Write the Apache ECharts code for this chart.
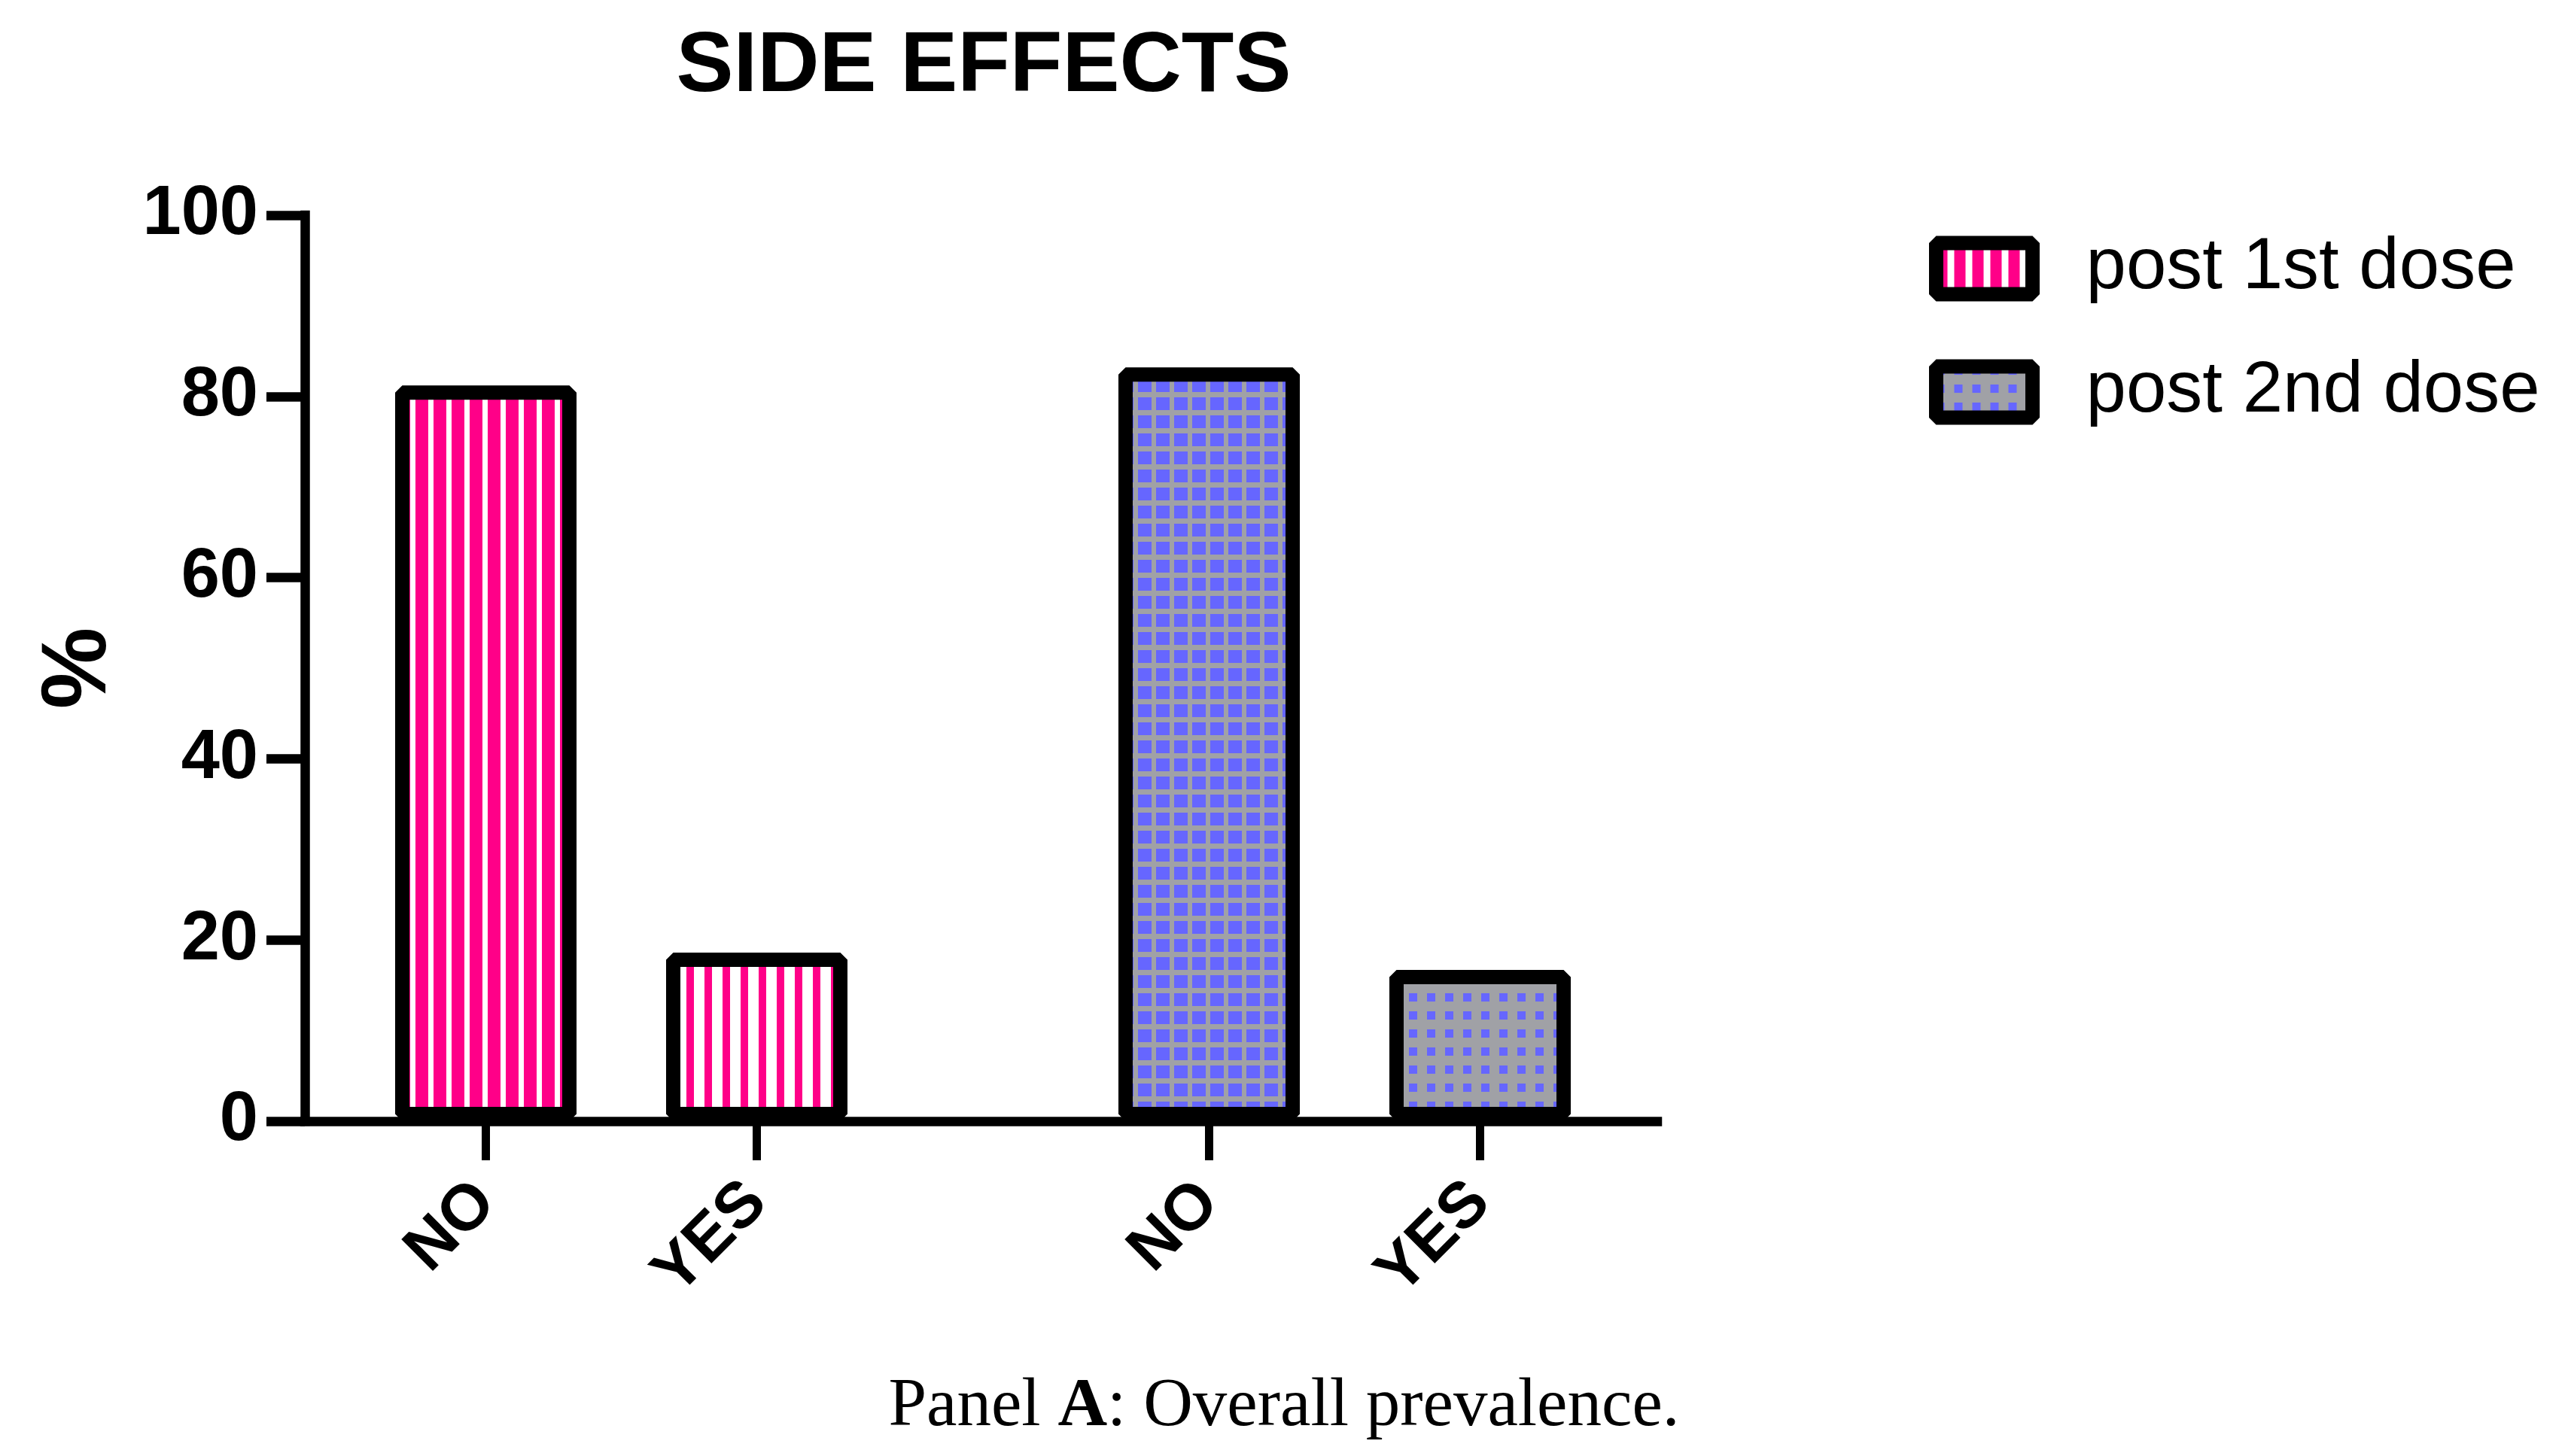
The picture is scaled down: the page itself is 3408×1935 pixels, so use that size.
<!DOCTYPE html>
<html><head><meta charset="utf-8">
<script src="https://cdn.jsdelivr.net/npm/echarts@6/dist/echarts.min.js"></script>
<style>html,body{margin:0;padding:0;background:#fff}#c{width:3408px;height:1935px}</style>
</head><body><div id="c"></div>
<script>
// ---- data ----
const categories = ['NO', 'YES'];
const seriesNames = ['post 1st dose', 'post 2nd dose'];
const dose1 = [81.2, 18.6];
const dose2 = [83.2, 16.7];
const yTicks = [0, 20, 40, 60, 80, 100];
const titleText = 'SIDE EFFECTS';
const yName = '%';
const captionText = 'Panel {b|A}: Overall prevalence.';

// ---- patterns ----
const PINK = '#FF0088', BLUE = '#6666FF', GRAY = '#A0A1A6';
function pat(draw) {
  const c = document.createElement('canvas'); c.width = 24; c.height = 24;
  const g = c.getContext('2d'); draw(g);
  return { image: c, repeat: 'repeat' };
}
function stripes(w) { return pat(g => { g.fillStyle = '#fff'; g.fillRect(0, 0, 24, 24); g.fillStyle = PINK; g.fillRect(0, 0, w, 24); }); }
const stripeHeavy = stripes(17), stripeLight = stripes(10), stripeLegend = stripes(15);
const gridPat = pat(g => { g.fillStyle = GRAY; g.fillRect(0, 0, 24, 24); g.fillStyle = BLUE; g.fillRect(0, 0, 18, 17); });
const dotPat = pat(g => { g.fillStyle = GRAY; g.fillRect(0, 0, 24, 24); g.fillStyle = BLUE; g.fillRect(0, 0, 11, 11); });

const FONT = 'Liberation Sans';
const TOP = 286, BOTTOM = 1935 - 1490;
const border = { borderColor: '#000', borderWidth: 19, borderJoin: 'bevel' };

function catAxis(gi) {
  return {
    gridIndex: gi, type: 'category', data: categories, boundaryGap: true,
    axisLine: { show: false },
    axisTick: { show: true, alignWithLabel: true, length: 52, lineStyle: { color: '#000', width: 11 } },
    axisLabel: { rotate: 45, margin: 95, fontSize: 86, fontWeight: 'bold', color: '#000', fontFamily: FONT },
    splitLine: { show: false }
  };
}
function hiddenY(gi) { return { gridIndex: gi, type: 'value', min: yTicks[0], max: yTicks[yTicks.length - 1], show: false, splitLine: { show: false } }; }

const chart = echarts.init(document.getElementById('c'), null, { renderer: 'canvas' });
chart.setOption({
  backgroundColor: '#fff',
  animation: false,
  grid: [
    { left: 405, right: 3408 - 2202, top: TOP, bottom: BOTTOM },
    { left: 465.5, width: 720, top: TOP, bottom: BOTTOM },
    { left: 1426.5, width: 720, top: TOP, bottom: BOTTOM }
  ],
  xAxis: [
    { gridIndex: 0, type: 'value', min: 0, max: 1, axisLine: { show: true, lineStyle: { color: '#000', width: 12.5, cap: 'square' } },
      axisTick: { show: false }, axisLabel: { show: false }, splitLine: { show: false } },
    catAxis(1), catAxis(2)
  ],
  yAxis: [
    { gridIndex: 0, type: 'value', min: yTicks[0], max: yTicks[yTicks.length - 1], interval: yTicks[1] - yTicks[0],
      name: yName, nameLocation: 'middle', nameGap: 238, nameRotate: 90,
      nameTextStyle: { fontSize: 122, fontWeight: 'bold', color: '#000', fontFamily: FONT },
      axisLine: { show: true, lineStyle: { color: '#000', width: 12.5, cap: 'square' } },
      axisTick: { show: true, length: 51, lineStyle: { color: '#000', width: 12.5 } },
      axisLabel: { margin: 62, fontSize: 92, fontWeight: 'bold', color: '#000', fontFamily: FONT },
      splitLine: { show: false } },
    hiddenY(1), hiddenY(2)
  ],
  legend: {
    orient: 'vertical', left: 2558, top: 304, itemWidth: 128, itemHeight: 68, itemGap: 68,
    icon: 'rect', selectedMode: false, data: seriesNames,
    itemStyle: { borderColor: '#000', borderWidth: 19, borderJoin: 'bevel' },
    textStyle: { fontSize: 96, fontFamily: FONT, color: '#000', padding: [0, 0, 0, 66], lineHeight: 68 }
  },
  graphic: [
    { type: 'text', x: 1307, y: 90, style: { text: titleText, fontSize: 114, fontWeight: 'bold', fontFamily: FONT, fill: '#000', align: 'center', verticalAlign: 'middle' } },
    { type: 'text', x: 1706, y: 1870, style: { text: captionText, fontSize: 91, fontFamily: 'Liberation Serif', fill: '#000', align: 'center', verticalAlign: 'middle',
      rich: { b: { fontSize: 91, fontFamily: 'Liberation Serif', fontWeight: 'bold', fill: '#000' } } } }
  ],
  series: [
    { name: seriesNames[0], type: 'bar', xAxisIndex: 1, yAxisIndex: 1, barWidth: 241,
      itemStyle: Object.assign({ color: stripeLegend }, border),
      data: dose1.map((v, i) => ({ value: v, itemStyle: { color: i === 0 ? stripeHeavy : stripeLight } })) },
    { name: seriesNames[1], type: 'bar', xAxisIndex: 2, yAxisIndex: 2, barWidth: 241,
      itemStyle: Object.assign({ color: dotPat }, border),
      data: dose2.map((v, i) => ({ value: v, itemStyle: { color: i === 0 ? gridPat : dotPat } })) }
  ]
});
</script></body></html>
